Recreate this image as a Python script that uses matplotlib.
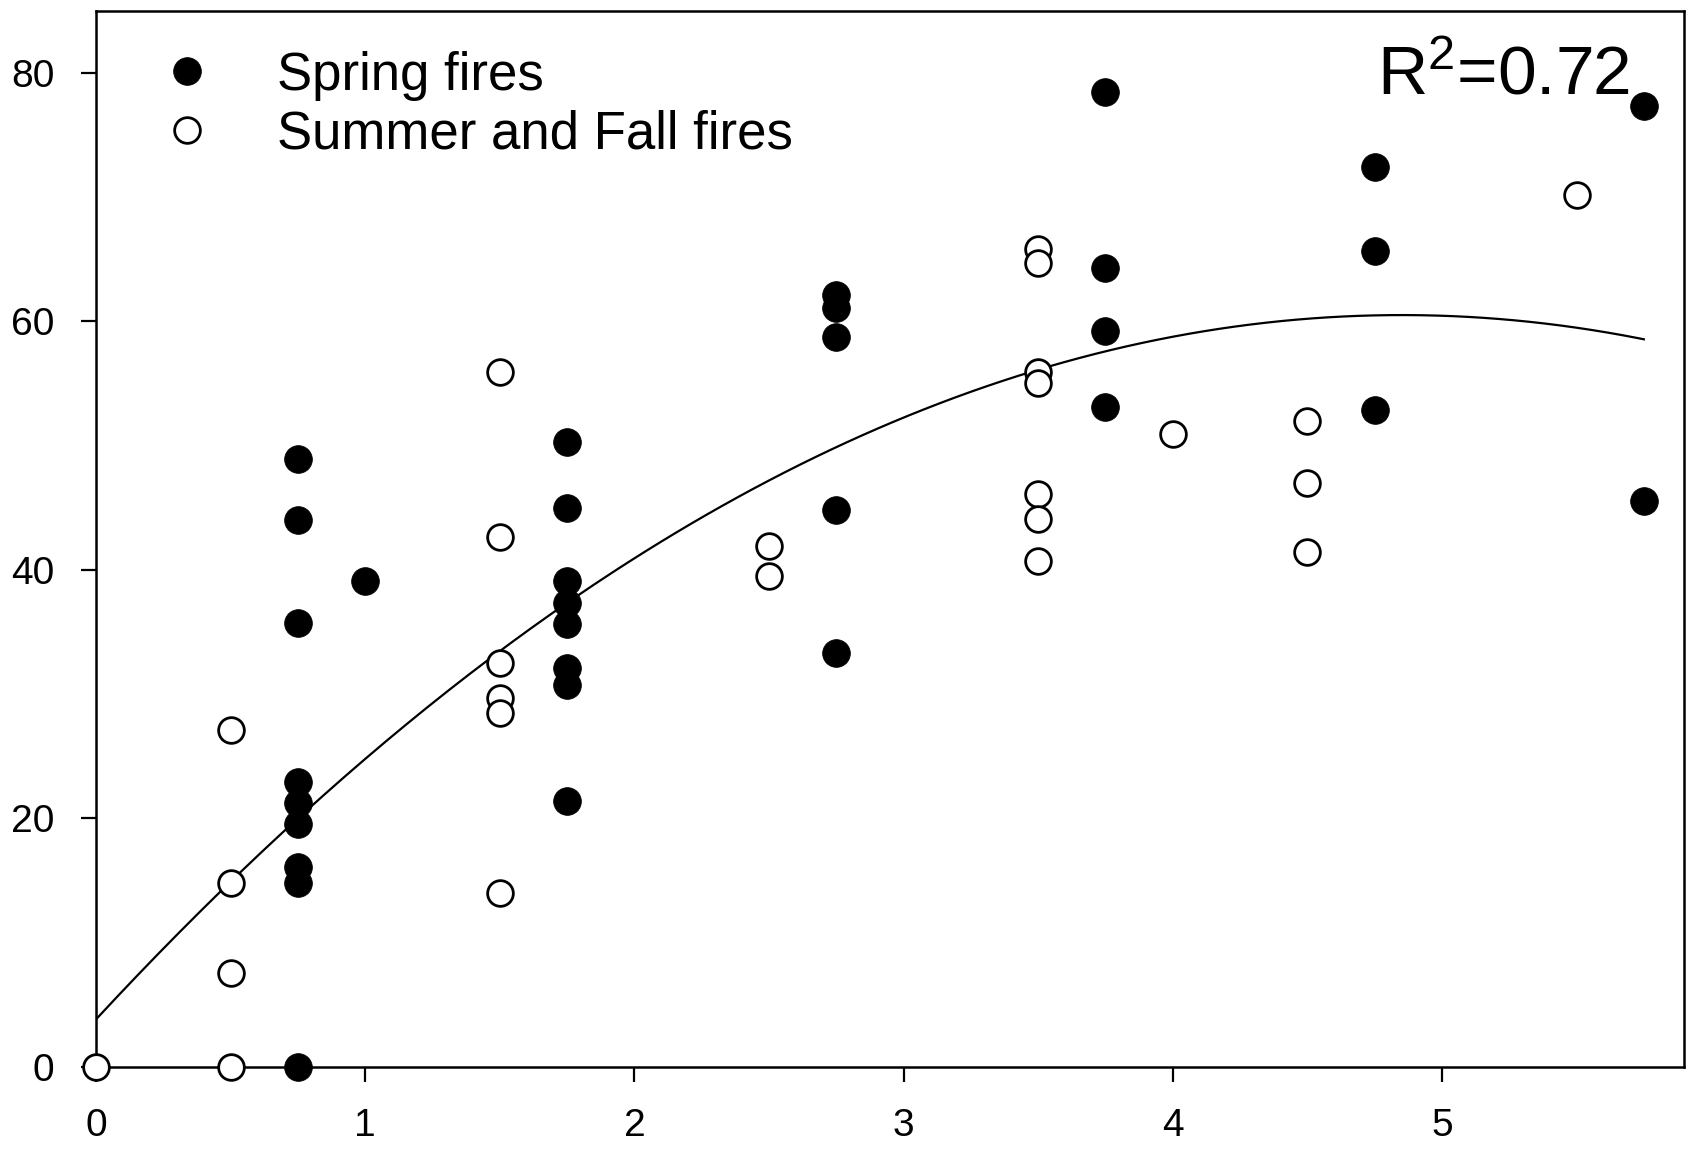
import numpy as np
import matplotlib
matplotlib.use("Agg")
import matplotlib.pyplot as plt

plt.rcParams['font.family'] = ['Liberation Sans', 'DejaVu Sans']
plt.rcParams['mathtext.fontset'] = 'custom'
plt.rcParams['mathtext.rm'] = 'Liberation Sans'
plt.rcParams['mathtext.it'] = 'Liberation Sans'

# Spring fires (filled)
spring_x = [0.75]*9 + [1.0] + [1.75]*8 + [2.75]*5 + [3.75]*4 + [4.75]*3 + [5.75]*2
spring_y = [48.9, 44.0, 35.7, 22.9, 21.2, 19.5, 16.1, 14.8, 0.0,
            39.1,
            50.3, 45.0, 39.1, 37.3, 35.6, 32.1, 30.7, 21.4,
            62.1, 61.1, 58.7, 44.8, 33.3,
            78.5, 64.3, 59.2, 53.1,
            72.4, 65.7, 52.9,
            77.3, 45.5]

# Summer and Fall fires (open)
summer_x = [0.0] + [0.5]*4 + [1.5]*6 + [2.5]*2 + [3.5]*7 + [4.0] + [4.5]*3 + [5.5]
summer_y = [0.0,
            27.1, 14.8, 7.5, 0.0,
            55.9, 42.6, 32.5, 29.7, 28.5, 14.0,
            41.9, 39.5,
            65.8, 64.7, 55.9, 55.0, 46.1, 44.1, 40.7,
            50.9,
            52.0, 47.0, 41.4,
            70.2]

# Quadratic fit coefficients: y = a + b x + c x^2
fit_a, fit_b, fit_c = 3.8, 23.38, -2.41
fit_range = (0.0, 5.75)

x_ticks = [0, 1, 2, 3, 4, 5]
y_ticks = [0, 20, 40, 60, 80]
legend_labels = ["Spring fires", "Summer and Fall fires"]
r2_text = "R$^2$=0.72"

fig = plt.figure(figsize=(16.91, 11.53), dpi=100)
ax = fig.add_axes([0.0568, 0.075, 0.9392, 0.9156])

xx = np.linspace(fit_range[0], fit_range[1], 300)
ax.plot(xx, fit_a + fit_b*xx + fit_c*xx**2, color='black', lw=1.6, zorder=2)

ax.plot(spring_x, spring_y, linestyle='none', marker='o', ms=20, mfc='black',
        mec='black', mew=0.5, clip_on=False, zorder=4, label=legend_labels[0])
ax.plot(summer_x, summer_y, linestyle='none', marker='o', ms=18.5, mfc='white',
        mec='black', mew=2.0, clip_on=False, zorder=4, label=legend_labels[1])

ax.set_xlim(0, 5.9)
ax.set_ylim(0, 85)
ax.set_xticks(x_ticks)
ax.set_yticks(y_ticks)
ax.set_xticklabels([str(t) for t in x_ticks])
ax.set_yticklabels([str(t) for t in y_ticks])
ax.tick_params(direction='out', length=11, width=1.6, labelsize=28, pad=19,
               top=False, right=False)
for s in ax.spines.values():
    s.set_linewidth(1.8)
    s.set_zorder(3)

leg = ax.legend(loc='upper left', bbox_to_anchor=(0.024, 0.982), frameon=False,
                fontsize=38, handlelength=1.2, handletextpad=1.1,
                labelspacing=0.16, borderaxespad=0.0, numpoints=1)

ax.text(0.966, 0.921, r2_text, transform=ax.transAxes, ha='right',
        va='baseline', fontsize=50)

fig.savefig("out.png", dpi=100)
